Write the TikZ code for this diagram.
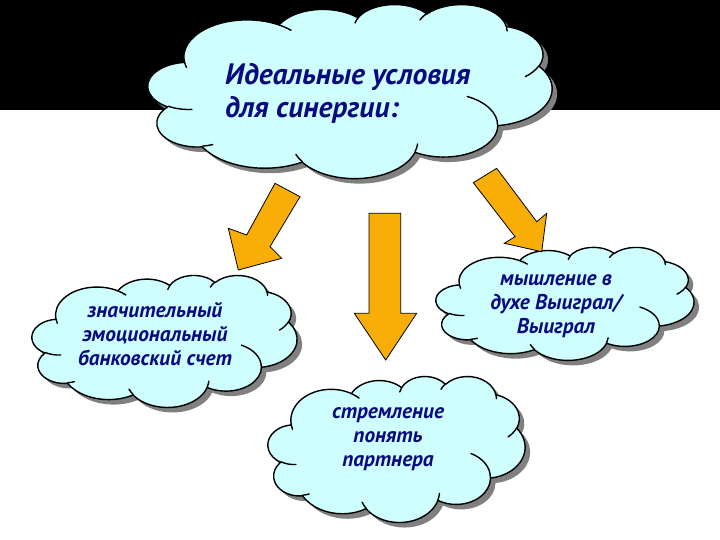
\documentclass[tikz,border=0pt]{standalone}
\usepackage{fontspec}
\setmainfont{PT Sans}
\definecolor{cloudfill}{RGB}{206,254,254}
\definecolor{textnavy}{RGB}{10,10,128}
\definecolor{arrowfill}{RGB}{248,174,6}
\definecolor{shadowgray}{RGB}{128,128,128}
\pgfmathdeclarefunction{pa}{2}{\pgfmathparse{atan2(#2*sin(#1),cos(#1))}}
\newcommand\garc[4]{arc[start angle={pa(#3,#1/#2)}, delta angle={mod(pa(#3+#4,#1/#2)-pa(#3,#1/#2)+720,360)}, x radius=#1, y radius=#2]}
\newcommand\cloudoutline{(39,143.7) \garc{67.53}{91.90}{-190.4875}{123.7805}
 \garc{53.33}{72.67}{-144.1024}{89.9452}
 \garc{43.65}{59.45}{-145.8079}{99.7230}
 \garc{48.57}{65.95}{-130.9861}{117.2417}
 \garc{53.33}{72.73}{-78.7089}{109.0269}
 \garc{67.75}{92.20}{-46.2673}{130.2690}
 \garc{57.85}{78.67}{0.6250}{114.0333}
 \garc{67.52}{92.15}{22.4516}{115.1726}
 \garc{77.20}{105.43}{66.2426}{75.7110}
 \garc{43.60}{59.18}{-274.9421}{146.7356}
 \garc{43.45}{59.45}{-246.8285}{152.5189} -- cycle}
\newcommand\cloudinner{(46.93,261.77) \garc{43.45}{59.45}{86.742}{26.4295}
 (69.28,348.99) \garc{43.60}{59.18}{73.6105}{11.4475}
 (164.78,390.90) \garc{67.52}{92.15}{137.6242}{14.0811}
 (288.27,347.51) \garc{67.52}{92.15}{6.4533}{15.9984}
 (341.29,229.54) \garc{57.85}{78.67}{-70.2924}{70.9174}
 (417.98,153.54) \garc{53.33}{72.73}{30.318}{27.7515}
 (383.24,54.26) \garc{48.57}{65.95}{-13.7443}{14.8589}
 (290.78,39.52) \garc{48.57}{65.95}{-149.1815}{18.1954}
 (221.41,47.20) \garc{43.65}{59.45}{-163.4943}{17.6864}
 (140.00,51.92) \garc{67.53}{91.90}{-66.7070}{12.3194}
 (41.27,157.89) \garc{67.53}{91.90}{157.6544}{11.8582}}
% #1 left, #2 top, #3 width, #4 height
\newcommand\drawcloud[4]{%
 \begin{scope}[shift={(#1+5,#2+5)}, xscale=#3/432, yscale=#4/432]
  \fill[shadowgray] \cloudoutline;
 \end{scope}
 \begin{scope}[shift={(#1,#2)}, xscale=#3/432, yscale=#4/432]
  \filldraw[cloudline, fill=cloudfill] \cloudoutline;
  \draw[cloudline] \cloudinner;
 \end{scope}}
\tikzset{
  cloudline/.style={draw=black, line width=1.4pt, line join=round, line cap=round},
  smalltext/.style={font=\fontsize{21.3}{24}\selectfont\itshape\bfseries, text=textnavy, align=center, inner sep=0pt},
  bigtext/.style={font=\fontsize{29.5}{33}\selectfont\itshape\bfseries, text=textnavy, align=left, inner sep=0pt},
  blockarrow/.style={fill=arrowfill, draw=black, line width=0.8pt, line join=miter}
}
\begin{document}
\begin{tikzpicture}[x=1pt,y=-1pt]
\useasboundingbox (0,0) rectangle (720,540);
\fill[black] (0,0) rectangle (720,110);
% clouds
\drawcloud{148}{4}{404}{174}
\drawcloud{32}{275}{265}{132}
\drawcloud{436}{247}{258}{113}
\drawcloud{268}{376}{257}{146}
% texts
\node[bigtext, anchor=west] (toptext) at (225,93) {Идеальные условия\\для синергии:};
\node[smalltext] (lefttext) at (155,334) {значительный\\эмоциональный\\банковский счет};
\node[smalltext] (righttext) at (556,306) {мышление в\\духе Выиграл/\\Выиграл};
\node[smalltext] (bottomtext) at (388,439) {стремление\\понять\\партнера};
% arrows
\draw[blockarrow] (275,183.3) -- (300,196.7) -- (270,246.7) -- (281.7,258.3) -- (238.3,270) -- (228.3,228.3) -- (246.7,235) -- cycle;
\draw[blockarrow] (369,213.3) -- (400.7,213.3) -- (400.7,313.3) -- (416.7,313.3) -- (385.7,360) -- (354.3,313.3) -- (369,313.3) -- cycle;
\draw[blockarrow] (473.3,182.7) -- (496.7,168.3) -- (536.7,221.7) -- (546.7,213.3) -- (541.7,251.7) -- (504.3,243.3) -- (515,236.7) -- cycle;
\end{tikzpicture}
\end{document}
